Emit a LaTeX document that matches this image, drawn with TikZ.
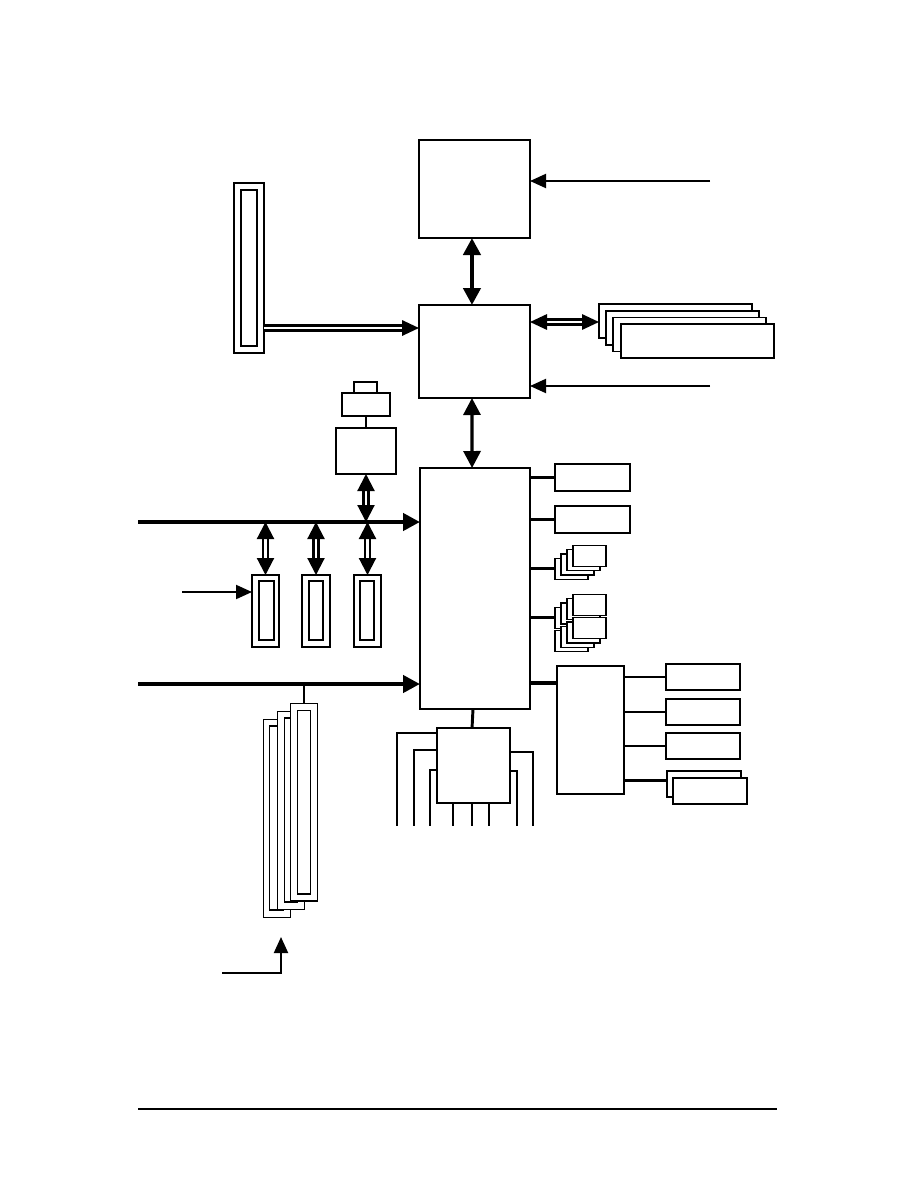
\documentclass[tikz,border=0pt]{standalone}
\usetikzlibrary{arrows.meta,calc}
\newcommand{\rbox}[6]{\node[#1,minimum width={((#5)-(#3))*0.75pt},minimum height={((#6)-(#4))*0.75pt}] (#2) at ({((#3)+(#5))/2},{((#4)+(#6))/2}) {};}
\begin{document}
\begin{tikzpicture}[x=0.75pt,y=-0.75pt,
  every node/.style={inner sep=0pt,outer sep=0pt},
  chip/.style={draw,rectangle,fill=white,line width=1.9pt},
  midbox/.style={draw,rectangle,fill=white,line width=1.3pt},
  thinbox/.style={draw,rectangle,fill=white,line width=1.05pt},
  tipA/.tip={Triangle[length=12pt,width=10.5pt]},
  tipB/.tip={Triangle[length=12.75pt,width=12.75pt]},
  tipC/.tip={Triangle[length=12.75pt,width=11.5pt]},
  arrowthin/.style={line width=1.5pt,-tipA},
  busarr/.style={line width=3.2pt,-tipB},
  fatarr/.style={line width=3.6pt,tipB-tipB},
  medarr/.style={line width=2.4pt,tipB-tipB},
  dblarr/.style={double=white,double distance=2.2pt,line width=1.6pt,tipB-tipB},
  dblmem/.style={double=white,double distance=2.2pt,line width=1.6pt,tipC-tipC},
  dblone/.style={double=white,double distance=2.2pt,line width=1.7pt,-tipC},
  link/.style={line width=2.2pt},
  wire/.style={line width=1.8pt},
  rule/.style={line width=1.9pt}
]
\useasboundingbox (0,0) rectangle (918,1188);

% main chips
\rbox{chip}{cpu}{419}{140}{530}{238}
\rbox{chip}{nb}{419}{305}{530}{398}
\rbox{chip}{sb}{420}{468}{530}{709}

% AGP slot
\rbox{thinbox}{agp}{234}{183}{264}{353}
\rbox{thinbox}{agpin}{241}{190}{257}{346}

% memory modules
\rbox{thinbox}{mem1}{599}{304}{752}{338}
\rbox{thinbox}{mem2}{606}{311}{759}{345}
\rbox{thinbox}{mem3}{613}{317.5}{766}{351.5}
\rbox{thinbox}{mem4}{621}{324}{774}{358}

% stack above the bus
\rbox{thinbox}{lantop}{354}{382}{377}{393}
\rbox{thinbox}{lanmid}{342}{393}{390}{416}
\rbox{thinbox}{lan}{336}{428}{396}{474}

% PCI slots
\rbox{thinbox}{pci1}{252}{575}{279}{647}
\rbox{thinbox}{pci1in}{259}{581}{274}{640}
\rbox{thinbox}{pci2}{302}{575}{330}{647}
\rbox{thinbox}{pci2in}{309}{581}{323}{640}
\rbox{thinbox}{pci3}{354}{575}{381}{647}
\rbox{thinbox}{pci3in}{360}{581}{374}{640}

% boxes right of south bridge
\rbox{midbox}{r1}{555}{464}{630}{491}
\rbox{midbox}{r2}{555}{506}{630}{533}
\foreach \i in {3,2,1,0}{
  \rbox{thinbox}{sa\i}{573-6*\i}{545.3+4.33*\i}{606-6*\i}{566.3+4.33*\i}
}
\foreach \i in {3,2,1,0}{
  \rbox{thinbox}{sb\i}{573-6*\i}{594.3+4.33*\i}{606-6*\i}{615.3+4.33*\i}
}
\foreach \i in {3,2,1,0}{
  \rbox{thinbox}{sc\i}{573-6*\i}{617.7+4.33*\i}{606-6*\i}{638.7+4.33*\i}
}

% super I/O and its items
\rbox{midbox}{sio}{557}{666}{624}{794}
\rbox{midbox}{it1}{666}{664}{740}{690}
\rbox{midbox}{it2}{666}{699}{740}{725}
\rbox{midbox}{it3}{666}{733}{740}{759}
\rbox{midbox}{it4}{667}{771}{741}{797}
\rbox{midbox}{it5}{673}{778}{747}{804}

% box below south bridge
\rbox{chip}{bx}{437}{728}{510}{803}

% DIMM-like slots
\rbox{thinbox}{dm1}{263.3}{719.3}{290.3}{917.3}
\rbox{thinbox}{dm1in}{269.5}{726}{283.5}{910}
\rbox{thinbox}{dm2}{277.3}{711.3}{304.3}{909.3}
\rbox{thinbox}{dm2in}{284.5}{718}{297.5}{902}
\rbox{thinbox}{dm3}{290.7}{703.3}{317.3}{901}
\rbox{thinbox}{dm3in}{297.3}{710.7}{310.3}{894}

% coordinates
\coordinate (cpuin) at (710,181);
\coordinate (nbin) at (710,386);
\coordinate (agpy) at (0,328);
\coordinate (memy) at (0,322);
\coordinate (bus1s) at (138,522);
\coordinate (bus2s) at (138,684);
\coordinate (pciin) at (182,592);
\coordinate (sioy) at (0,683);
\coordinate (it4y) at (0,780.7);
\coordinate (dimarr) at (222,973);
\coordinate (dimtip) at (281,937);
\coordinate (e1) at (397,826);
\coordinate (e2) at (414,826);
\coordinate (e3) at (430,826);
\coordinate (e4) at (453,826);
\coordinate (e5) at (472,826);
\coordinate (e6) at (489,826);
\coordinate (e7) at (517,826);
\coordinate (e8) at (533,826);

% connectors
\draw[arrowthin] (cpuin) -- (cpuin -| cpu.east);
\draw[arrowthin] (nbin) -- (nbin -| nb.east);
\draw[fatarr] ([xshift=-1.9pt]cpu.south) -- ([xshift=-1.9pt]nb.north);
\draw[medarr] ([xshift=-1.9pt]nb.south) -- ([xshift=-2.2pt]sb.north);
\draw[dblone] (agp.east |- agpy) -- (nb.west |- agpy);
\draw[dblmem] (nb.east |- memy) -- (mem1.west |- memy);

\draw[busarr] (bus1s) -- (bus1s -| sb.west);
\draw[busarr] (bus2s) -- (bus2s -| sb.west);
\draw[dblarr] (pci1.north |- bus1s) -- (pci1.north);
\draw[dblarr] (pci2.north |- bus1s) -- (pci2.north);
\draw[dblarr] (pci3.north |- bus1s) -- (pci3.north);
\draw[dblarr] (lan.south) -- (lan.south |- bus1s);
\draw[wire] (lanmid.south) -- (lan.north);
\draw[arrowthin] (pciin) -- (pciin -| pci1.west);

\draw[link] (sb.east |- r1.west) -- (r1.west);
\draw[link] (sb.east |- r2.west) -- (r2.west);
\draw[link] (sb.east |- sa3.west) -- (sa3.west);
\draw[link] (sb.east |- sb3.west) -- (sb3.west);
\draw[busarr,-] (sb.east |- sioy) -- (sio.west |- sioy);

\draw[link] (sio.east |- it1.west) -- (it1.west);
\draw[link] (sio.east |- it2.west) -- (it2.west);
\draw[link] (sio.east |- it3.west) -- (it3.west);
\draw[link] (sio.east |- it4y) -- (it4.west |- it4y);

\draw[link] ([xshift=-1.5pt]sb.south) -- ([xshift=-1.1pt]bx.north);
\draw[wire] ([yshift=-3.75pt]bx.north west) -| (e1);
\draw[wire] ([yshift=-16.5pt]bx.north west) -| (e2);
\draw[wire] ([yshift=-31.5pt]bx.north west) -| (e3);
\draw[wire] (e4 |- bx.south) -- (e4);
\draw[wire] (e5 |- bx.south) -- (e5);
\draw[wire] (e6 |- bx.south) -- (e6);
\draw[wire] ([yshift=-32.25pt]bx.north east) -| (e7);
\draw[wire] ([yshift=-17.8pt]bx.north east) -| (e8);

\draw[wire] (dm3.north) -- (dm3.north |- bus2s);
\draw[arrowthin] (dimarr) -| (dimtip);

% page rule
\draw[rule] (138,1109) -- (777,1109);
\end{tikzpicture}
\end{document}
